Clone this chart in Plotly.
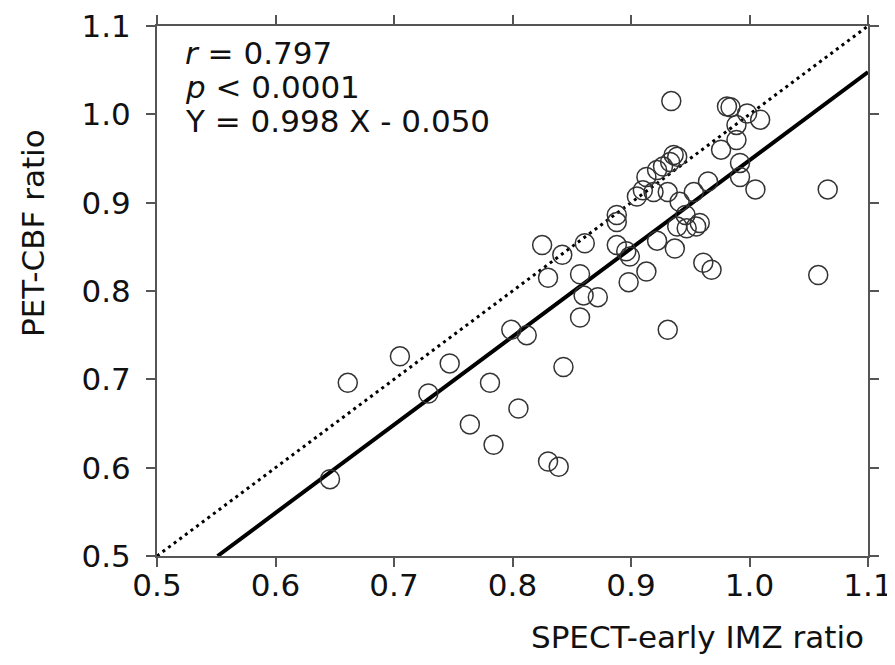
import plotly.graph_objects as go

# Data
spect_early_imz = [
    0.934, 0.981, 0.984, 0.998, 1.009, 0.989, 0.989, 0.976, 0.992, 0.992,
    1.005, 1.066, 0.936, 0.939, 0.933, 0.927, 0.922, 0.913, 0.910, 0.919,
    0.905, 0.931, 0.953, 0.965, 0.941, 0.888, 0.888, 0.946, 0.939, 0.947,
    0.955, 0.958, 0.825, 0.842, 0.861, 0.888, 0.922, 0.937, 0.896, 0.899,
    0.961, 0.968, 0.830, 0.857, 0.913, 1.058, 0.898, 0.860, 0.872, 0.857,
    0.799, 0.812, 0.931, 0.705, 0.747, 0.661, 0.729, 0.781, 0.843, 0.805,
    0.764, 0.784, 0.646, 0.830, 0.839,
]
pet_cbf = [
    1.015, 1.009, 1.008, 1.001, 0.994, 0.988, 0.971, 0.960, 0.945, 0.929,
    0.915, 0.915, 0.954, 0.952, 0.946, 0.941, 0.937, 0.929, 0.914, 0.912,
    0.907, 0.912, 0.912, 0.924, 0.901, 0.886, 0.878, 0.886, 0.873, 0.871,
    0.873, 0.877, 0.852, 0.841, 0.854, 0.852, 0.857, 0.848, 0.845, 0.839,
    0.832, 0.824, 0.815, 0.819, 0.822, 0.818, 0.810, 0.795, 0.793, 0.770,
    0.756, 0.750, 0.756, 0.726, 0.718, 0.696, 0.684, 0.696, 0.714, 0.667,
    0.649, 0.626, 0.587, 0.607, 0.601,
]
slope = 0.998
intercept = -0.050
axis_min = 0.5
axis_max = 1.1
tick_values = [0.5, 0.6, 0.7, 0.8, 0.9, 1.0, 1.1]
stats_lines = ["<i>r</i> = 0.797", "<i>p</i> < 0.0001", "Y = 0.998 X - 0.050"]
x_title = "SPECT-early IMZ ratio"
y_title = "PET-CBF ratio"

FONT = "DejaVu Sans"
TXT = "#111111"
AX = "#555555"

# page body has an 8px margin: figure is drawn 8px right/down of page origin
OFF = 8
W, H = 895 - OFF, 665 - OFF
PL, PR, PT, PB = 157 - OFF, 868 - OFF, 26 - OFF, 556 - OFF  # plot box in figure px
PW, PH = PR - PL, PB - PT

fig = go.Figure()

# identity line (dotted)
fig.add_trace(go.Scatter(
    x=[axis_min, axis_max], y=[axis_min, axis_max], mode="lines",
    line=dict(color="black", width=3, dash="3px,4px"), hoverinfo="skip",
    showlegend=False,
))

# regression line
x_start = (axis_min - intercept) / slope
fig.add_trace(go.Scatter(
    x=[x_start, axis_max], y=[axis_min, slope * axis_max + intercept], mode="lines",
    line=dict(color="black", width=4), hoverinfo="skip", showlegend=False,
))

# data points
fig.add_trace(go.Scatter(
    x=spect_early_imz, y=pet_cbf, mode="markers",
    marker=dict(symbol="circle-open", size=19, color="#333333",
                line=dict(width=1.5, color="#333333")),
    showlegend=False,
))

axis_common = dict(
    range=[axis_min, axis_max], tickvals=tick_values, tickformat=".1f",
    showgrid=False, zeroline=False, showline=True, linecolor=AX, linewidth=2,
    mirror="ticks", ticks="outside", ticklen=9, tickwidth=2, tickcolor=AX,
    tickfont=dict(family=FONT, size=31, color=TXT), automargin=False,
    ticklabeloverflow="allow",
)
fig.update_xaxes(**axis_common, ticklabelstandoff=-8)
fig.update_yaxes(**axis_common, ticklabelstandoff=9)


def px(xp):
    return (xp - OFF - PL) / PW


def py(yp):
    return (PB - (yp - OFF)) / PH


annotations = []
for i, line in enumerate(stats_lines):
    annotations.append(dict(
        xref="paper", yref="paper", x=px(183), y=py(53 + 34 * i),
        xanchor="left", yanchor="middle", text=line, showarrow=False,
        font=dict(family=FONT, size=31, color=TXT),
    ))
annotations.append(dict(
    xref="paper", yref="paper", x=px(866), y=py(637),
    xanchor="right", yanchor="middle", text=x_title, showarrow=False,
    font=dict(family=FONT, size=31, color=TXT),
))
annotations.append(dict(
    xref="paper", yref="paper", x=px(33), y=py(233),
    xanchor="center", yanchor="middle", text=y_title, showarrow=False,
    textangle=-90, font=dict(family=FONT, size=31, color=TXT),
))

fig.update_layout(
    width=W, height=H,
    margin=dict(l=PL, r=W - PR, t=PT, b=H - PB),
    paper_bgcolor="white", plot_bgcolor="white",
    annotations=annotations,
)

fig.write_html("out.html")
